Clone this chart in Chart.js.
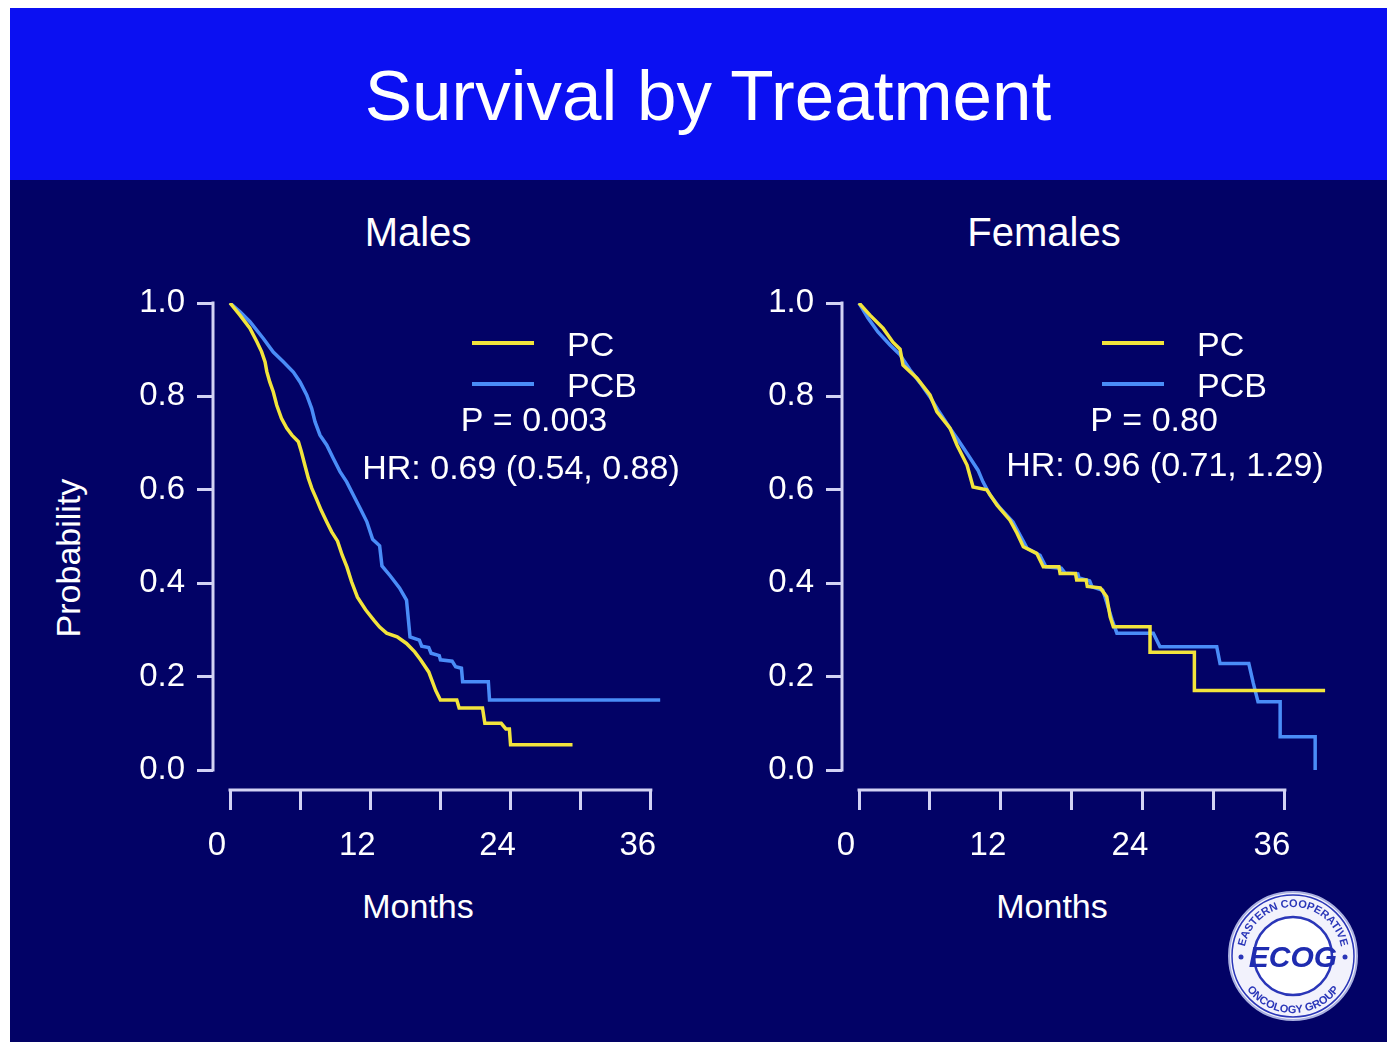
<!DOCTYPE html>
<html>
<head>
<meta charset="utf-8">
<script src="https://cdn.jsdelivr.net/npm/chart.js@4.4.1/dist/chart.umd.min.js"></script>
<style>
  html, body { margin:0; padding:0; background:#ffffff; width:1387px; height:1045px; overflow:hidden;
    font-family:"Liberation Sans", Arial, sans-serif; }
  #slide { position:absolute; left:10px; top:8px; width:1377px; height:1034px; background:#020266; }
  #header { position:absolute; left:10px; top:8px; width:1377px; height:172px; background:#0B10F2; }
  .t { position:absolute; color:#ffffff; white-space:nowrap; transform:translate(-50%,-50%); line-height:1; }
  canvas { position:absolute; }
</style>
</head>
<body>
<div id="slide"></div>
<div id="header"></div>
<div class="t" style="left:708px;top:95px;font-size:71px;">Survival by Treatment</div>
<div class="t" style="left:418px;top:232px;font-size:40px;">Males</div>
<div class="t" style="left:1044px;top:232px;font-size:40px;">Females</div>
<div class="t" style="left:418px;top:906px;font-size:34px;">Months</div>
<div class="t" style="left:1052px;top:906px;font-size:34px;">Months</div>
<div class="t" style="left:68px;top:558px;font-size:34px;transform:translate(-50%,-50%) rotate(-90deg);">Probability</div>

<canvas id="males" width="700" height="760" style="left:0px;top:190px;"></canvas>
<canvas id="females" width="680" height="760" style="left:700px;top:190px;"></canvas>

<svg style="position:absolute;left:1227px;top:890px" width="132" height="132" viewBox="-66 -66 132 132">
  <defs>
    <path id="arcTop" d="M -49 0 A 49 49 0 0 1 49 0"/>
    <path id="arcBot" d="M -57 0 A 57 57 0 0 0 57 0"/>
  </defs>
  <circle r="64" fill="#f2f2fc" stroke="#aab0e0" stroke-width="2"/>
  <circle r="61" fill="none" stroke="#2a36b8" stroke-width="1.5"/>
  <circle r="39" fill="#ffffff" stroke="#2a36b8" stroke-width="2.5"/>
  <text font-family="Liberation Sans, Arial" font-size="11" font-weight="bold" fill="#2a36b8"><textPath href="#arcTop" startOffset="50%" text-anchor="middle">EASTERN COOPERATIVE</textPath></text>
  <text font-family="Liberation Sans, Arial" font-size="11" font-weight="bold" fill="#2a36b8"><textPath href="#arcBot" startOffset="50%" text-anchor="middle">ONCOLOGY GROUP</textPath></text>
  <circle cx="-52" cy="1" r="2.5" fill="#2a36b8"/>
  <circle cx="52" cy="1" r="2.5" fill="#2a36b8"/>
  <text x="0" y="11" text-anchor="middle" font-family="Liberation Sans, Arial" font-size="30" font-weight="bold" font-style="italic" fill="#1f2cb0">ECOG</text>
</svg>

<script>
// ---------- data (curve vertices) ----------
const SERIES = ['PC', 'PCB'];
const MONTH_TICKS = [0, 6, 12, 18, 24, 30, 36];
const MONTH_LABELED = [0, 12, 24, 36];
const PROB_TICKS = [0, 0.2, 0.4, 0.6, 0.8, 1.0];

const MALES_PC_MONTHS = [0, 0.85, 1.7, 2.3, 2.7, 3.0, 3.15, 3.4, 3.7, 4.0, 4.4, 4.85, 5.3, 5.85, 6.1, 6.4, 6.7, 7.0, 7.4, 7.8,
  8.3, 8.7, 9.2, 9.6, 10.0, 10.4, 10.9, 11.6, 12.3, 12.8, 13.4, 14.3, 15.1, 15.8, 16.3, 17.0, 17.6, 18.0, 19.4, 19.6,
  21.6, 21.8, 23.2, 23.6, 23.9, 24.0, 29.3];
const MALES_PC_SURV = [1.0, 0.974, 0.946, 0.917, 0.896, 0.874, 0.853, 0.831, 0.81, 0.781, 0.753, 0.732, 0.717, 0.703, 0.682, 0.653, 0.625, 0.603, 0.58, 0.556,
  0.53, 0.51, 0.49, 0.46, 0.435, 0.403, 0.37, 0.343, 0.321, 0.306, 0.293, 0.285, 0.271, 0.253, 0.236, 0.21, 0.17, 0.15, 0.15, 0.133,
  0.133, 0.1, 0.1, 0.088, 0.088, 0.054, 0.054];

const MALES_PCB_MONTHS = [0, 0.86, 1.71, 2.85, 3.7, 4.56, 5.42, 5.99, 6.56, 6.99, 7.27, 7.7, 8.27, 8.84, 9.41, 9.98, 10.55, 11.12, 11.7, 12.2,
  12.8, 13.0, 13.7, 14.5, 15.1, 15.4, 16.2, 16.4, 17.0, 17.2, 17.9, 18.0, 19.0, 19.3, 19.8, 19.9, 22.1, 22.2, 36.8];
const MALES_PCB_SURV = [1.0, 0.981, 0.96, 0.924, 0.895, 0.874, 0.852, 0.831, 0.803, 0.774, 0.746, 0.717, 0.696, 0.667, 0.639, 0.617, 0.589, 0.561, 0.532, 0.494,
  0.48, 0.437, 0.416, 0.39, 0.364, 0.285, 0.278, 0.265, 0.262, 0.25, 0.245, 0.236, 0.233, 0.221, 0.218, 0.189, 0.189, 0.15, 0.15];

const FEMALES_PC_MONTHS = [0, 0.93, 2.03, 2.87, 3.47, 3.72, 4.9, 6.0, 6.59, 7.69, 8.28, 9.13, 9.64, 10.8, 11.67, 12.76, 13.36, 13.89, 15.02, 15.58,
  16.9, 17.0, 18.3, 18.4, 19.2, 19.3, 20.4, 20.94, 21.23, 21.5, 24.6, 24.6, 28.35, 28.35, 39.4];
const FEMALES_PC_SURV = [1.0, 0.974, 0.946, 0.916, 0.901, 0.867, 0.839, 0.803, 0.767, 0.732, 0.696, 0.653, 0.606, 0.6, 0.567, 0.535, 0.507, 0.478, 0.464, 0.435,
  0.435, 0.421, 0.421, 0.407, 0.407, 0.393, 0.39, 0.371, 0.328, 0.307, 0.307, 0.252, 0.252, 0.17, 0.17];

const FEMALES_PCB_MONTHS = [0, 0.76, 1.6, 2.62, 3.47, 4.31, 5.16, 6.0, 6.68, 7.69, 8.37, 9.21, 10.06, 10.48, 11.07, 11.92, 13.02, 13.61, 14.2, 15.3,
  15.8, 17.1, 17.4, 18.5, 18.6, 19.5, 19.7, 20.6, 20.8, 21.4, 21.8, 24.88, 25.44, 30.24, 30.52, 32.95, 33.33, 33.73, 35.6, 35.6,
  38.56, 38.56];
const FEMALES_PCB_SURV = [1.0, 0.968, 0.938, 0.91, 0.889, 0.857, 0.829, 0.799, 0.771, 0.732, 0.707, 0.675, 0.642, 0.617, 0.589, 0.561, 0.531, 0.503, 0.475, 0.46,
  0.435, 0.432, 0.422, 0.42, 0.411, 0.405, 0.392, 0.385, 0.37, 0.321, 0.293, 0.293, 0.264, 0.264, 0.228, 0.228, 0.186, 0.146, 0.146, 0.071,
  0.071, 0.0];

const MALES_STATS = ['P = 0.003', 'HR: 0.69 (0.54, 0.88)'];
const FEMALES_STATS = ['P = 0.80', 'HR: 0.96 (0.71, 1.29)'];

// ---------- styles ----------
const FONT = '"Liberation Sans", Arial, sans-serif';
const YELLOW = '#F2E43C';
const BLUE = '#4A8DF8';
const AXIS = '#D2D2F4';
const TEXT = '#FFFFFF';

function xy(m, s) { return m.map((v, i) => ({ x: v, y: s[i] })); }

const kmDecor = {
  id: 'kmDecor',
  beforeDatasetsDraw(chart, args, o) {
    const { ctx, chartArea, scales: { x, y } } = chart;
    ctx.save();
    ctx.strokeStyle = AXIS;
    ctx.lineWidth = 3;
    ctx.beginPath();
    ctx.moveTo(x.getPixelForValue(MONTH_TICKS[0]) - 1.5, chartArea.bottom);
    ctx.lineTo(x.getPixelForValue(MONTH_TICKS[MONTH_TICKS.length - 1]) + 1.5, chartArea.bottom);
    ctx.moveTo(chartArea.left, y.getPixelForValue(PROB_TICKS[0]) + 1.5);
    ctx.lineTo(chartArea.left, y.getPixelForValue(PROB_TICKS[PROB_TICKS.length - 1]) - 1.5);
    ctx.stroke();
    ctx.restore();
  },
  afterDatasetsDraw(chart, args, o) {
    const { ctx } = chart;
    ctx.save();
    ctx.font = '34px ' + FONT;
    ctx.fillStyle = TEXT;
    ctx.textBaseline = 'middle';
    chart.data.datasets.forEach((ds, i) => {
      const yy = o.legendY + i * o.legendGap;
      ctx.strokeStyle = ds.borderColor;
      ctx.lineWidth = 4;
      ctx.beginPath();
      ctx.moveTo(o.legendX, yy);
      ctx.lineTo(o.legendX + 62, yy);
      ctx.stroke();
      ctx.textAlign = 'left';
      ctx.fillText(ds.label, o.legendTextX, yy + 4);
    });
    ctx.textAlign = 'center';
    o.stats.forEach((s, i) => ctx.fillText(s, o.statsX[i], o.statsY[i]));
    ctx.restore();
  }
};

function makeChart(id, pc, pcb, xMin, xMax, yWidth, padRight, decor) {
  const yMin = -20 / 467;
  return new Chart(document.getElementById(id), {
    type: 'line',
    data: {
      datasets: [
        { label: SERIES[0], data: pc, borderColor: YELLOW, backgroundColor: YELLOW, borderWidth: 3.5, pointRadius: 0, fill: false, tension: 0 },
        { label: SERIES[1], data: pcb, borderColor: BLUE, backgroundColor: BLUE, borderWidth: 3.5, pointRadius: 0, fill: false, tension: 0 }
      ]
    },
    options: {
      responsive: false,
      animation: false,
      events: [],
      layout: { padding: { top: 113, right: padRight, bottom: 0, left: 0 } },
      plugins: { legend: { display: false }, tooltip: { enabled: false }, title: { display: false }, kmDecor: decor },
      scales: {
        x: {
          type: 'linear', min: xMin, max: xMax,
          afterBuildTicks: s => { s.ticks = MONTH_TICKS.map(v => ({ value: v })); },
          afterFit: s => { s.height = 160; },
          grid: { display: true, drawOnChartArea: false, drawTicks: true, tickLength: 20, color: AXIS, lineWidth: 3 },
          border: { display: false },
          ticks: {
            color: TEXT, font: { family: FONT, size: 33 }, padding: 16, labelOffset: -13,
            maxRotation: 0, minRotation: 0, autoSkip: false,
            callback: v => MONTH_LABELED.includes(v) ? String(v) : ''
          }
        },
        y: {
          type: 'linear', min: yMin, max: 1,
          afterBuildTicks: s => { s.ticks = PROB_TICKS.map(v => ({ value: v })); },
          afterFit: s => { s.width = yWidth; },
          grid: { display: true, drawOnChartArea: false, drawTicks: true, tickLength: 16, color: AXIS, lineWidth: 3 },
          border: { display: false },
          ticks: { color: TEXT, font: { family: FONT, size: 33 }, padding: 12, callback: v => v.toFixed(1) }
        }
      }
    },
    plugins: [kmDecor]
  });
}

// Males: y axis at x=213, month 0 at x=230, 11.69 px / month
makeChart('males', xy(MALES_PC_MONTHS, MALES_PC_SURV), xy(MALES_PCB_MONTHS, MALES_PCB_SURV),
  -17 / 11.69, -17 / 11.69 + 467 / 11.69, 213, 20,
  { legendX: 472, legendY: 153, legendGap: 41, legendTextX: 567, stats: MALES_STATS, statsX: [534, 521], statsY: [232, 280] });

// Females: y axis at x=842 (canvas 142), month 0 at x=859, 11.83 px / month
makeChart('females', xy(FEMALES_PC_MONTHS, FEMALES_PC_SURV), xy(FEMALES_PCB_MONTHS, FEMALES_PCB_SURV),
  -17 / 11.83, -17 / 11.83 + 508 / 11.83, 142, 30,
  { legendX: 402, legendY: 153, legendGap: 41, legendTextX: 497, stats: FEMALES_STATS, statsX: [454, 465], statsY: [232, 277] });
</script>
</body>
</html>
